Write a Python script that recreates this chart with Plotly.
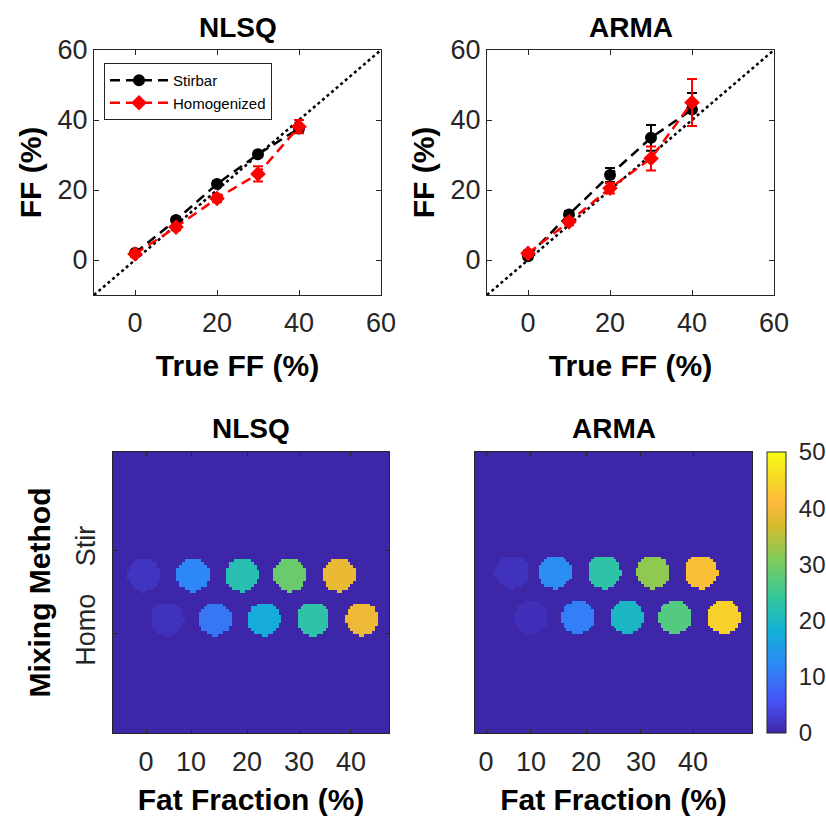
import numpy as np
import plotly.graph_objects as go

# ---------------- data: top scatter plots ----------------
true_ff = [0, 10, 20, 30, 40]
nlsq_stir = [2.0, 11.4, 21.7, 30.2, 37.6]
nlsq_stir_err = [0.6, 0.8, 0.8, 0.8, 0.9]
nlsq_homo = [1.7, 9.4, 17.6, 24.6, 38.1]
nlsq_homo_err = [0.8, 0.9, 1.1, 2.2, 1.9]
arma_stir = [1.1, 13.0, 24.3, 34.9, 43.0]
arma_stir_err = [0.8, 0.9, 2.0, 3.7, 4.7]
arma_homo = [1.9, 10.9, 20.5, 29.0, 45.0]
arma_homo_err = [0.9, 1.0, 1.5, 3.4, 6.7]
identity_line = [-10, 60]
ff_ticks = [0, 20, 40, 60]

# ---------------- data: bottom FF maps (phantom vials) ----------------
img_cols, img_rows = 100, 102
vial_radius = 6.0
nlsq_stir_col = [11.2, 29.0, 46.7, 64.1, 81.9]
nlsq_homo_col = [19.6, 37.0, 54.7, 72.5, 90.2]
nlsq_stir_row, nlsq_homo_row = 44.6, 60.6
nlsq_stir_map_ff = [1.8, 12.0, 22.0, 29.0, 39.0]
nlsq_homo_map_ff = [1.5, 10.0, 17.5, 23.0, 39.5]
arma_stir_col = [13.4, 28.9, 46.6, 64.3, 81.6]
arma_homo_col = [20.2, 37.2, 54.9, 72.2, 89.9]
arma_stir_row, arma_homo_row = 43.6, 59.9
arma_stir_map_ff = [1.5, 13.0, 23.0, 32.0, 42.0]
arma_homo_map_ff = [1.2, 11.0, 20.0, 27.0, 44.0]
map_x_tick_labels = ["0", "10", "20", "30", "40"]
nlsq_map_x_tickvals = [11.96, 28.26, 48.55, 67.39, 86.23]
arma_map_x_tickvals = [3.97, 20.2, 40.1, 59.9, 78.7]
map_y_tickvals = [35.6, 66.0]
map_y_tick_labels = ["Stir", "Homo"]
cbar_ticks = [0, 10, 20, 30, 40, 50]

parula = [
    [0.0, "rgb(62,38,168)"],
    [0.11, "rgb(72,82,244)"],
    [0.24, "rgb(46,135,247)"],
    [0.365, "rgb(18,177,214)"],
    [0.49, "rgb(55,200,151)"],
    [0.62, "rgb(129,204,89)"],
    [0.74, "rgb(215,186,45)"],
    [0.82, "rgb(252,185,61)"],
    [0.9, "rgb(245,215,38)"],
    [1.0, "rgb(249,251,21)"],
]


def build_map(stir_cols, stir_row, stir_vals, homo_cols, homo_row, homo_vals):
    xc = np.arange(img_cols) + 0.5
    yc = np.arange(img_rows) + 0.5
    X, Y = np.meshgrid(xc, yc)
    z = np.zeros((img_rows, img_cols))
    for cols, row, vals in ((stir_cols, stir_row, stir_vals), (homo_cols, homo_row, homo_vals)):
        for c, v in zip(cols, vals):
            mask = (X - c) ** 2 + (Y - row) ** 2 <= vial_radius ** 2
            z[mask] = v
    return xc, yc, z


FONT = "Liberation Sans, Arial, sans-serif"
AXC = "#262626"

fig = go.Figure()

# ---- top scatter plots ----
for ax, (stir, stir_e, homo, homo_e) in zip(
    ["", "2"],
    [(nlsq_stir, nlsq_stir_err, nlsq_homo, nlsq_homo_err),
     (arma_stir, arma_stir_err, arma_homo, arma_homo_err)],
):
    xa, ya = "x" + ax, "y" + ax
    first = ax == ""
    fig.add_trace(go.Scatter(
        x=identity_line, y=identity_line, mode="lines",
        line=dict(color="black", width=2.5, dash="dot"),
        showlegend=False, hoverinfo="skip", xaxis=xa, yaxis=ya))
    fig.add_trace(go.Scatter(
        x=true_ff, y=stir, mode="lines+markers", name="Stirbar",
        line=dict(color="black", width=2.5, dash="10px,6px"),
        marker=dict(symbol="circle", size=12, color="black"),
        error_y=dict(type="data", array=stir_e, color="black", thickness=2, width=5),
        showlegend=first, legendgroup="stir", xaxis=xa, yaxis=ya))
    fig.add_trace(go.Scatter(
        x=true_ff, y=homo, mode="lines+markers", name="Homogenized",
        line=dict(color="red", width=2.5, dash="10px,6px"),
        marker=dict(symbol="diamond", size=12, color="red"),
        error_y=dict(type="data", array=homo_e, color="red", thickness=2, width=5),
        showlegend=first, legendgroup="homo", xaxis=xa, yaxis=ya))

# ---- bottom maps ----
xc, yc, z_nlsq = build_map(nlsq_stir_col, nlsq_stir_row, nlsq_stir_map_ff,
                           nlsq_homo_col, nlsq_homo_row, nlsq_homo_map_ff)
_, _, z_arma = build_map(arma_stir_col, arma_stir_row, arma_stir_map_ff,
                         arma_homo_col, arma_homo_row, arma_homo_map_ff)

fig.add_trace(go.Heatmap(x=xc, y=yc, z=z_nlsq, zmin=0, zmax=50, colorscale=parula,
                         showscale=False, xaxis="x3", yaxis="y3", hoverinfo="skip"))
fig.add_trace(go.Heatmap(
    x=xc, y=yc, z=z_arma, zmin=0, zmax=50, colorscale=parula, xaxis="x4", yaxis="y4",
    hoverinfo="skip",
    colorbar=dict(
        x=767 / 826, xanchor="left", xpad=0, ypad=0, thickness=19,
        len=281 / 821, lenmode="fraction", y=1 - (452 + 733) / 2 / 821, yanchor="middle",
        tickvals=cbar_ticks, ticks="outside", ticklen=8, tickcolor="rgba(0,0,0,0)",
        outlinecolor=AXC, outlinewidth=1,
        tickfont=dict(family=FONT, size=24, color=AXC),
    )))


def px_x(a, b):
    return [a / 826, b / 826]


def px_y(top, bottom):
    return [1 - bottom / 821, 1 - top / 821]


title_font = dict(family=FONT, size=30, color="black", weight="bold")
tick_font = dict(family=FONT, size=27, color=AXC)

common = dict(showline=True, linecolor=AXC, linewidth=1, mirror="ticks", ticks="inside",
              ticklen=5, tickcolor=AXC, showgrid=False, zeroline=False, tickfont=tick_font,
              automargin=False)

layout_axes = {}
for i, (dx) in enumerate([px_x(94, 381), px_x(487, 774)]):
    sfx = "" if i == 0 else "2"
    layout_axes["xaxis" + sfx] = dict(
        common, domain=dx, range=[-10, 60], tickvals=ff_ticks, anchor="y" + sfx,
        ticklabelstandoff=4,
        title=dict(text="True FF (%)", font=title_font, standoff=17))
    layout_axes["yaxis" + sfx] = dict(
        common, domain=px_y(50, 295), range=[-10, 60], tickvals=ff_ticks, anchor="x" + sfx,
        title=dict(text="FF (%)", font=title_font, standoff=7))

map_axis = dict(showline=True, linecolor=AXC, linewidth=1, mirror="ticks", ticks="inside",
                ticklen=4, tickcolor=AXC, showgrid=False, zeroline=False, tickfont=tick_font,
                automargin=False)
layout_axes["xaxis3"] = dict(map_axis, domain=px_x(113, 389), range=[0, img_cols], anchor="y3",
                             tickvals=nlsq_map_x_tickvals, ticktext=map_x_tick_labels,
                             ticklabelstandoff=5,
                             title=dict(text="Fat Fraction (%)", font=title_font, standoff=12))
layout_axes["yaxis3"] = dict(map_axis, domain=px_y(452, 733), range=[img_rows, 0], anchor="x3",
                             tickvals=map_y_tickvals, ticktext=map_y_tick_labels, tickangle=-90,
                             ticklabelstandoff=6,
                             title=dict(text="Mixing Method", font=title_font, standoff=11))
layout_axes["xaxis4"] = dict(map_axis, domain=px_x(475, 752), range=[0, img_cols], anchor="y4",
                             tickvals=arma_map_x_tickvals, ticktext=map_x_tick_labels,
                             ticklabelstandoff=5,
                             title=dict(text="Fat Fraction (%)", font=title_font, standoff=12))
layout_axes["yaxis4"] = dict(map_axis, domain=px_y(452, 733), range=[img_rows, 0], anchor="x4",
                             showticklabels=False, ticks="")

sub_title_font = dict(family=FONT, size=28, color="black", weight="bold")
annotations = []
for text, cx, cy in [("NLSQ", 237.5, 27), ("ARMA", 630.5, 27),
                     ("NLSQ", 251, 428), ("ARMA", 613.5, 428)]:
    annotations.append(dict(text=text, x=cx / 826, y=1 - cy / 821, xref="paper", yref="paper",
                            xanchor="center", yanchor="middle", showarrow=False,
                            font=sub_title_font))

fig.update_layout(
    width=826, height=821, margin=dict(l=0, r=0, t=0, b=0, autoexpand=False),
    paper_bgcolor="white", plot_bgcolor="white",
    font=dict(family=FONT, color=AXC),
    showlegend=True,
    legend=dict(x=104 / 826, y=1 - 63 / 821, xanchor="left", yanchor="top",
                bgcolor="white", bordercolor=AXC, borderwidth=1,
                font=dict(family=FONT, size=15, color="black"),
                itemwidth=58, tracegroupgap=0),
    annotations=annotations,
    **layout_axes,
)

fig.write_html("out.html")
